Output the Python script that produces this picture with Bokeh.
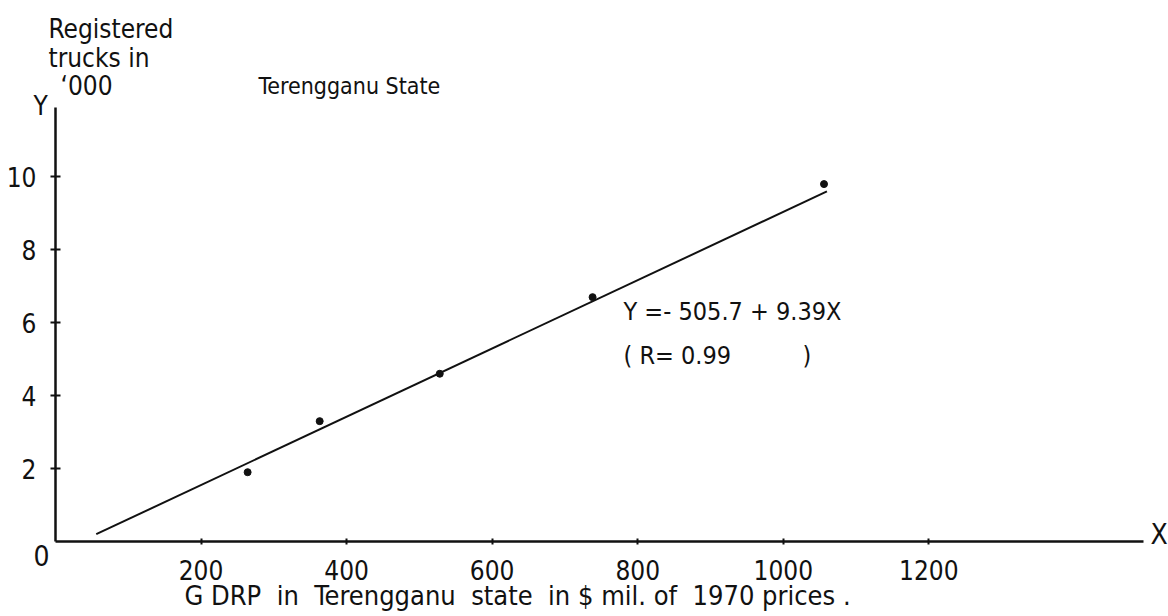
from bokeh.plotting import figure
from bokeh.models import Range1d, FixedTicker, Label
from bokeh.embed import file_html
from bokeh.resources import INLINE

# ---- data ----
gdrp = [264, 363, 528, 738, 1056]          # GDRP, $ mil. (1970 prices)
trucks = [1.9, 3.3, 4.6, 6.7, 9.8]          # registered trucks, '000
fit_x = [56, 1060]                          # drawn regression line ends
fit_y = [0.2, 9.6]
x_ticks = [200, 400, 600, 800, 1000, 1200]
y_ticks = [2, 4, 6, 8, 10]

FONT = "'DejaVu Sans Condensed', 'Liberation Sans', sans-serif"
INK = "#111111"

W, H = 1168, 616
# axis origin (pixels) and scale
OX, OY = 55, 541
KX = 1088 / 1495.0      # px per $ mil.
KY = 434 / 11.9         # px per thousand trucks

p = figure(width=W, height=H,
           x_range=Range1d(-OX / KX, (W - OX) / KX),
           y_range=Range1d(-(H - OY) / KY, OY / KY),
           output_backend="svg", toolbar_location=None, min_border=0)
p.outline_line_color = None
p.xgrid.visible = False
p.ygrid.visible = False
p.background_fill_color = "white"
p.border_fill_color = "white"

for ax in (p.xaxis[0], p.yaxis[0]):
    ax.fixed_location = 0
    ax.axis_line_width = 2.5
    ax.axis_line_color = INK
    ax.major_tick_line_color = INK
    ax.major_tick_line_width = 2
    ax.minor_tick_line_color = None
    ax.major_label_text_font = FONT
    ax.major_label_text_font_size = "26px"
    ax.major_label_text_color = INK

p.xaxis[0].ticker = FixedTicker(ticks=x_ticks)
p.xaxis[0].bounds = (0, 1495)
p.xaxis[0].major_tick_in = 3
p.xaxis[0].major_tick_out = 3
p.xaxis[0].major_label_standoff = 15

p.yaxis[0].ticker = FixedTicker(ticks=y_ticks)
p.yaxis[0].bounds = (0, 11.9)
p.yaxis[0].major_tick_in = 5
p.yaxis[0].major_tick_out = 5
p.yaxis[0].major_label_standoff = 14

p.line(fit_x, fit_y, line_color=INK, line_width=2)
p.scatter(gdrp, trucks, size=7, color=INK)


def dx(px):
    return (px - OX) / KX


def dy(py):
    return (OY - py) / KY


def add_text(txt, px, py, size, align="left"):
    # py: vertical centre of the text in pixels from the top
    p.add_layout(Label(x=dx(px), y=dy(py), text=txt.replace(" ", "\u00a0"),
                       text_font=FONT, text_font_size=f"{size}px",
                       text_color=INK, text_align=align,
                       text_baseline="middle"))


add_text("Registered", 48, 28, 26)
add_text("trucks in", 48, 57, 26)
add_text("\u2018000", 60, 85, 26)
add_text("Y", 33, 105, 26)
add_text("Terengganu State", 258, 85, 23)
add_text("0", 41, 555, 28, align="center")
add_text("X", 1150, 534, 28)
add_text("Y =- 505.7 + 9.39X", 623, 311, 25)
add_text("( R= 0.99          )", 623, 355, 25)
add_text("G DRP  in  Terengganu  state  in $ mil. of  1970 prices .", 184, 595, 27)

open("out.html", "w").write(file_html(p, INLINE))
